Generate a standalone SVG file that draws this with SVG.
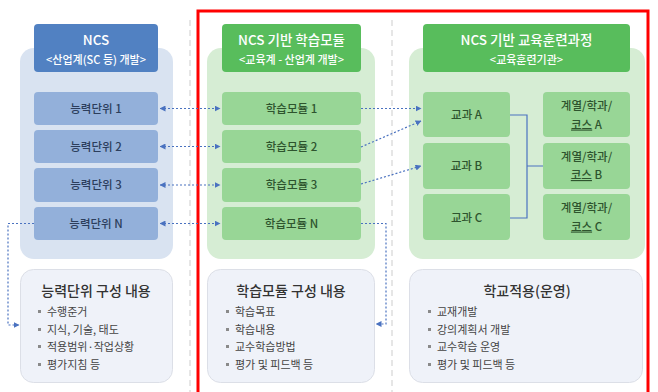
<svg xmlns="http://www.w3.org/2000/svg" width="658" height="392" viewBox="0 0 658 392">
<style>
text{font-family:"Noto Sans CJK KR","Noto Sans",sans-serif}
.bgB{fill:#d9e3f1}
.bgG{fill:#d6edd4}
.hdB{fill:#5181c2}
.hdG{fill:#58bd5c}
.bxB{fill:#93b0da}
.bxG{fill:#98d696}
.ht{fill:#fff;font-size:13.5px;font-weight:500;text-anchor:middle}
.hs{fill:#fff;font-size:11px;font-weight:500;text-anchor:middle}
.tB{fill:#2c3e5c;font-size:11.5px;font-weight:500;text-anchor:middle}
.tG{fill:#2e542e;font-size:11.5px;font-weight:500;text-anchor:middle}
.info{fill:#eff2f9;stroke:#dcdfe7;stroke-width:1}
.it{fill:#333;font-size:14px;font-weight:500;text-anchor:middle}
.li{fill:#444;font-size:11px}
.bul{fill:#8a8a8a}
.sep{stroke:#dedede;stroke-width:1.5;stroke-dasharray:6 4;fill:none}
.dot{stroke:#4a72c0;stroke-width:1.2;stroke-dasharray:2 2;fill:none}
.sol{stroke:#4a72c0;stroke-width:1.2;fill:none}
</style>
<defs>
<marker id="ah" viewBox="0 0 6 6" refX="5.5" refY="3" markerWidth="6" markerHeight="6" markerUnits="userSpaceOnUse" orient="auto-start-reverse">
<path d="M0,0 L6,3 L0,6 Z" fill="#4a72c0"/>
</marker>
</defs>
<rect width="658" height="392" fill="#fff"/>
<line class="sep" x1="190" y1="20" x2="190" y2="392"/>
<line class="sep" x1="392" y1="20" x2="392" y2="392"/>
<rect x="198" y="11" width="450" height="395" fill="none" stroke="#ff0000" stroke-width="3"/>

<g id="ncs">
<rect class="bgB" x="20" y="48" width="153" height="211" rx="14"/>
<rect class="hdB" x="34" y="24" width="124" height="48" rx="4"/>
<text class="ht" x="96" y="45">NCS</text>
<text class="hs" x="96" y="64">&lt;산업계(SC 등) 개발&gt;</text>
</g>
<g id="unit1"><rect class="bxB" x="34" y="92" width="124" height="33" rx="4"/><text class="tB" x="96" y="112.5">능력단위 1</text></g>
<g id="unit2"><rect class="bxB" x="34" y="130" width="124" height="33" rx="4"/><text class="tB" x="96" y="150.5">능력단위 2</text></g>
<g id="unit3"><rect class="bxB" x="34" y="168" width="124" height="34" rx="4"/><text class="tB" x="96" y="189">능력단위 3</text></g>
<g id="unitN"><rect class="bxB" x="34" y="207" width="124" height="33" rx="4"/><text class="tB" x="96" y="227.5">능력단위 N</text></g>

<g id="module">
<rect class="bgG" x="207" y="48" width="168" height="211" rx="14"/>
<rect class="hdG" x="222" y="24" width="139" height="48" rx="4"/>
<text class="ht" x="291.5" y="45">NCS 기반 학습모듈</text>
<text class="hs" x="291.5" y="64">&lt;교육계 - 산업계 개발&gt;</text>
</g>
<g id="mod1"><rect class="bxG" x="222" y="92" width="139" height="33" rx="4"/><text class="tG" x="291.5" y="112.5">학습모듈 1</text></g>
<g id="mod2"><rect class="bxG" x="222" y="130" width="139" height="33" rx="4"/><text class="tG" x="291.5" y="150.5">학습모듈 2</text></g>
<g id="mod3"><rect class="bxG" x="222" y="168" width="139" height="34" rx="4"/><text class="tG" x="291.5" y="189">학습모듈 3</text></g>
<g id="modN"><rect class="bxG" x="222" y="207" width="139" height="33" rx="4"/><text class="tG" x="291.5" y="227.5">학습모듈 N</text></g>

<g id="course">
<rect class="bgG" x="409" y="48" width="236" height="211" rx="14"/>
<rect class="hdG" x="423" y="24" width="207" height="48" rx="4"/>
<text class="ht" x="526.5" y="45">NCS 기반 교육훈련과정</text>
<text class="hs" x="526.5" y="64">&lt;교육훈련기관&gt;</text>
</g>
<g id="subjA"><rect class="bxG" x="423" y="92" width="87" height="45" rx="4"/><text class="tG" x="466.5" y="119">교과 A</text></g>
<g id="subjB"><rect class="bxG" x="423" y="143" width="87" height="46" rx="4"/><text class="tG" x="466.5" y="170">교과 B</text></g>
<g id="subjC"><rect class="bxG" x="423" y="194" width="87" height="46" rx="4"/><text class="tG" x="466.5" y="221.5">교과 C</text></g>
<g id="deptA"><rect class="bxG" x="543" y="92" width="87" height="45" rx="4"/><text class="tG" x="586.5" y="109.5">계열/학과/</text><text class="tG" x="586.5" y="128.5"><tspan text-decoration="underline">코스</tspan> A</text></g>
<g id="deptB"><rect class="bxG" x="543" y="143" width="87" height="46" rx="4"/><text class="tG" x="586.5" y="161">계열/학과/</text><text class="tG" x="586.5" y="179"><tspan text-decoration="underline">코스</tspan> B</text></g>
<g id="deptC"><rect class="bxG" x="543" y="194" width="87" height="46" rx="4"/><text class="tG" x="586.5" y="212">계열/학과/</text><text class="tG" x="586.5" y="230.5"><tspan text-decoration="underline">코스</tspan> C</text></g>

<g id="unitInfo">
<rect class="info" x="20.5" y="269.5" width="152" height="113" rx="13"/>
<text class="it" x="96" y="296">능력단위 구성 내용</text>
<rect class="bul" x="38" y="310" width="3" height="3"/><text class="li" x="47" y="316">수행준거</text>
<rect class="bul" x="38" y="328" width="3" height="3"/><text class="li" x="47" y="334">지식, 기술, 태도</text>
<rect class="bul" x="38" y="345" width="3" height="3"/><text class="li" x="47" y="351">적용범위·작업상황</text>
<rect class="bul" x="38" y="363" width="3" height="3"/><text class="li" x="47" y="369">평가지침 등</text>
</g>
<g id="moduleInfo">
<rect class="info" x="207.5" y="269.5" width="167" height="113" rx="13"/>
<text class="it" x="291" y="296">학습모듈 구성 내용</text>
<rect class="bul" x="226" y="310" width="3" height="3"/><text class="li" x="235" y="316">학습목표</text>
<rect class="bul" x="226" y="328" width="3" height="3"/><text class="li" x="235" y="334">학습내용</text>
<rect class="bul" x="226" y="345" width="3" height="3"/><text class="li" x="235" y="351">교수학습방법</text>
<rect class="bul" x="226" y="363" width="3" height="3"/><text class="li" x="235" y="369">평가 및 피드백 등</text>
</g>
<g id="schoolInfo">
<rect class="info" x="409.5" y="269.5" width="233" height="113" rx="13"/>
<text class="it" x="527" y="296">학교적용(운영)</text>
<rect class="bul" x="428" y="310" width="3" height="3"/><text class="li" x="437" y="316">교재개발</text>
<rect class="bul" x="428" y="328" width="3" height="3"/><text class="li" x="437" y="334">강의계획서 개발</text>
<rect class="bul" x="428" y="345" width="3" height="3"/><text class="li" x="437" y="351">교수학습 운영</text>
<rect class="bul" x="428" y="363" width="3" height="3"/><text class="li" x="437" y="369">평가 및 피드백 등</text>
</g>

<g id="connectors">
<path class="dot" d="M160,108.5 H220" marker-start="url(#ah)" marker-end="url(#ah)"/>
<path class="dot" d="M160,146.5 H220" marker-start="url(#ah)" marker-end="url(#ah)"/>
<path class="dot" d="M160,185 H220" marker-start="url(#ah)" marker-end="url(#ah)"/>
<path class="dot" d="M160,223.5 H220" marker-start="url(#ah)" marker-end="url(#ah)"/>
<path class="dot" d="M34,223.5 H8 V325 H19" marker-end="url(#ah)"/>
<path class="dot" d="M361,108.5 H421" marker-end="url(#ah)"/>
<path class="dot" d="M361,147 L421,121" marker-end="url(#ah)"/>
<path class="dot" d="M361,184 L421,166" marker-end="url(#ah)"/>
<path class="dot" d="M361,223.5 H386 V324 H376" marker-end="url(#ah)"/>
<path class="sol" d="M510,115 H527 V218 H510 M527,166 H543"/>
</g>
</svg>
